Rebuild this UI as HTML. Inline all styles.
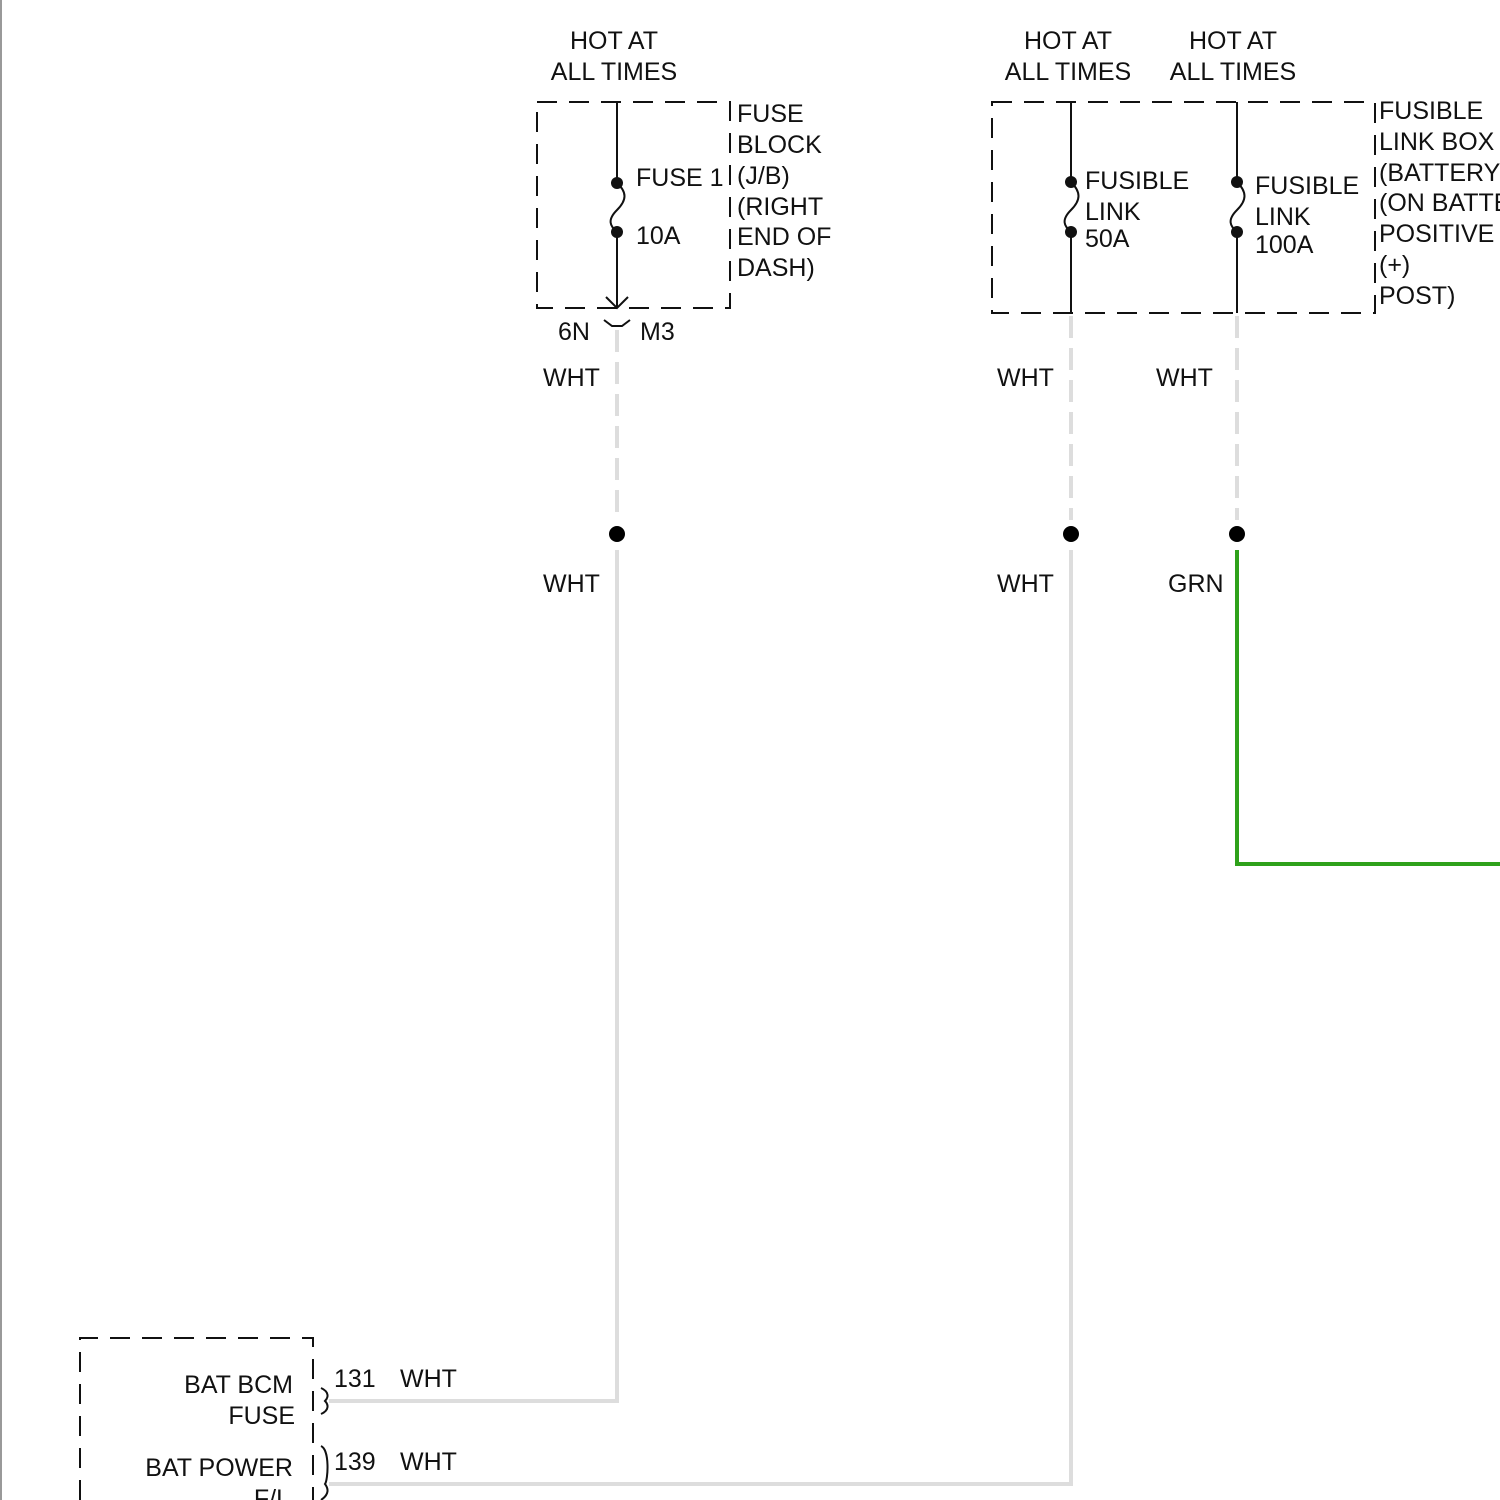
<!DOCTYPE html>
<html><head><meta charset="utf-8"><style>
html,body{margin:0;padding:0;background:#fff;}
svg{display:block;}
text{font-family:"Liberation Sans",Arial,sans-serif;font-size:25px;fill:#111;}
</style></head><body>
<svg width="1500" height="1500" viewBox="0 0 1500 1500" xmlns="http://www.w3.org/2000/svg">
<rect width="1500" height="1500" fill="#fff"/>
<line x1="1" y1="0" x2="1" y2="1500" stroke="#999" stroke-width="2"/>

<g stroke="#111" stroke-width="2" fill="none">
<rect x="537" y="102" width="193" height="206" stroke-dasharray="20,12"/>
<line x1="617" y1="102" x2="617" y2="183"/>
<path d="M617 183 C627 192,627 200,617 210 C607 220,610 226,617 232"/>
<line x1="617" y1="232" x2="617" y2="308"/>
<path d="M606 297 L617 308 L628 297"/>
<path d="M604 320 L612 326 L622 326 L630 320"/>
</g>
<circle cx="617" cy="183" r="6" fill="#111"/>
<circle cx="617" cy="232" r="6" fill="#111"/>
<text x="614" y="49" text-anchor="middle">HOT AT</text>
<text x="614" y="80" text-anchor="middle">ALL TIMES</text>
<text x="636" y="186">FUSE 1</text>
<text x="636" y="244">10A</text>
<text x="737" y="122">FUSE</text>
<text x="737" y="153">BLOCK</text>
<text x="737" y="184">(J/B)</text>
<text x="737" y="215">(RIGHT</text>
<text x="737" y="245">END OF</text>
<text x="737" y="276">DASH)</text>
<text x="558" y="340">6N</text>
<text x="640" y="340">M3</text>

<g stroke="#111" stroke-width="2" fill="none">
<rect x="992" y="102" width="383" height="211" stroke-dasharray="20,12"/>
<line x1="1071" y1="102" x2="1071" y2="182"/>
<path d="M1071 182 C1081 192,1081 200,1071 210 C1061 220,1064 226,1071 232"/>
<line x1="1071" y1="232" x2="1071" y2="313"/>
<line x1="1237" y1="102" x2="1237" y2="182"/>
<path d="M1237 182 C1247 192,1247 200,1237 210 C1227 220,1230 226,1237 232"/>
<line x1="1237" y1="232" x2="1237" y2="313"/>
</g>
<circle cx="1071" cy="182" r="6" fill="#111"/>
<circle cx="1071" cy="232" r="6" fill="#111"/>
<circle cx="1237" cy="182" r="6" fill="#111"/>
<circle cx="1237" cy="232" r="6" fill="#111"/>
<text x="1068" y="49" text-anchor="middle">HOT AT</text>
<text x="1068" y="80" text-anchor="middle">ALL TIMES</text>
<text x="1233" y="49" text-anchor="middle">HOT AT</text>
<text x="1233" y="80" text-anchor="middle">ALL TIMES</text>
<text x="1085" y="189">FUSIBLE</text>
<text x="1085" y="220">LINK</text>
<text x="1085" y="247">50A</text>
<text x="1255" y="194">FUSIBLE</text>
<text x="1255" y="225">LINK</text>
<text x="1255" y="253">100A</text>
<text x="1379" y="119">FUSIBLE</text>
<text x="1379" y="150">LINK BOX</text>
<text x="1379" y="181">(BATTERY)</text>
<text x="1379" y="211">(ON BATTERY</text>
<text x="1379" y="242">POSITIVE</text>
<text x="1379" y="273">(+)</text>
<text x="1379" y="304">POST)</text>

<g stroke="#ddd" stroke-width="4" fill="none" stroke-dasharray="22,10">
<line x1="617" y1="330" x2="617" y2="520"/>
<line x1="1071" y1="316" x2="1071" y2="520"/>
<line x1="1237" y1="316" x2="1237" y2="520"/>
</g>
<circle cx="617" cy="534" r="8" fill="#000"/>
<circle cx="1071" cy="534" r="8" fill="#000"/>
<circle cx="1237" cy="534" r="8" fill="#000"/>
<text x="543" y="386">WHT</text>
<text x="997" y="386">WHT</text>
<text x="1156" y="386">WHT</text>
<text x="543" y="592">WHT</text>
<text x="997" y="592">WHT</text>
<text x="1168" y="592">GRN</text>

<g fill="none" stroke-width="4">
<path d="M617 550 L617 1401 L329 1401" stroke="#ddd"/>
<path d="M1071 550 L1071 1484 L329 1484" stroke="#ddd"/>
<path d="M1237 550 L1237 864 L1500 864" stroke="#2ea11a"/>
</g>

<g stroke="#111" stroke-width="2" fill="none">
<path d="M80 1500 L80 1338 L313 1338 L313 1500" stroke-dasharray="20,12"/>
<path d="M321 1388 C330 1392,328 1398,325 1401 C328 1404,330 1410,321 1414"/>
<path d="M321 1446 C330 1450,328 1480,325 1484 C328 1488,330 1494,321 1500"/>
</g>
<text x="293" y="1393" text-anchor="end">BAT BCM</text>
<text x="295" y="1424" text-anchor="end">FUSE</text>
<text x="293" y="1476" text-anchor="end">BAT POWER</text>
<text x="290" y="1507" text-anchor="end">F/L</text>
<text x="334" y="1387">131</text>
<text x="400" y="1387">WHT</text>
<text x="334" y="1470">139</text>
<text x="400" y="1470">WHT</text>
</svg>
</body></html>
